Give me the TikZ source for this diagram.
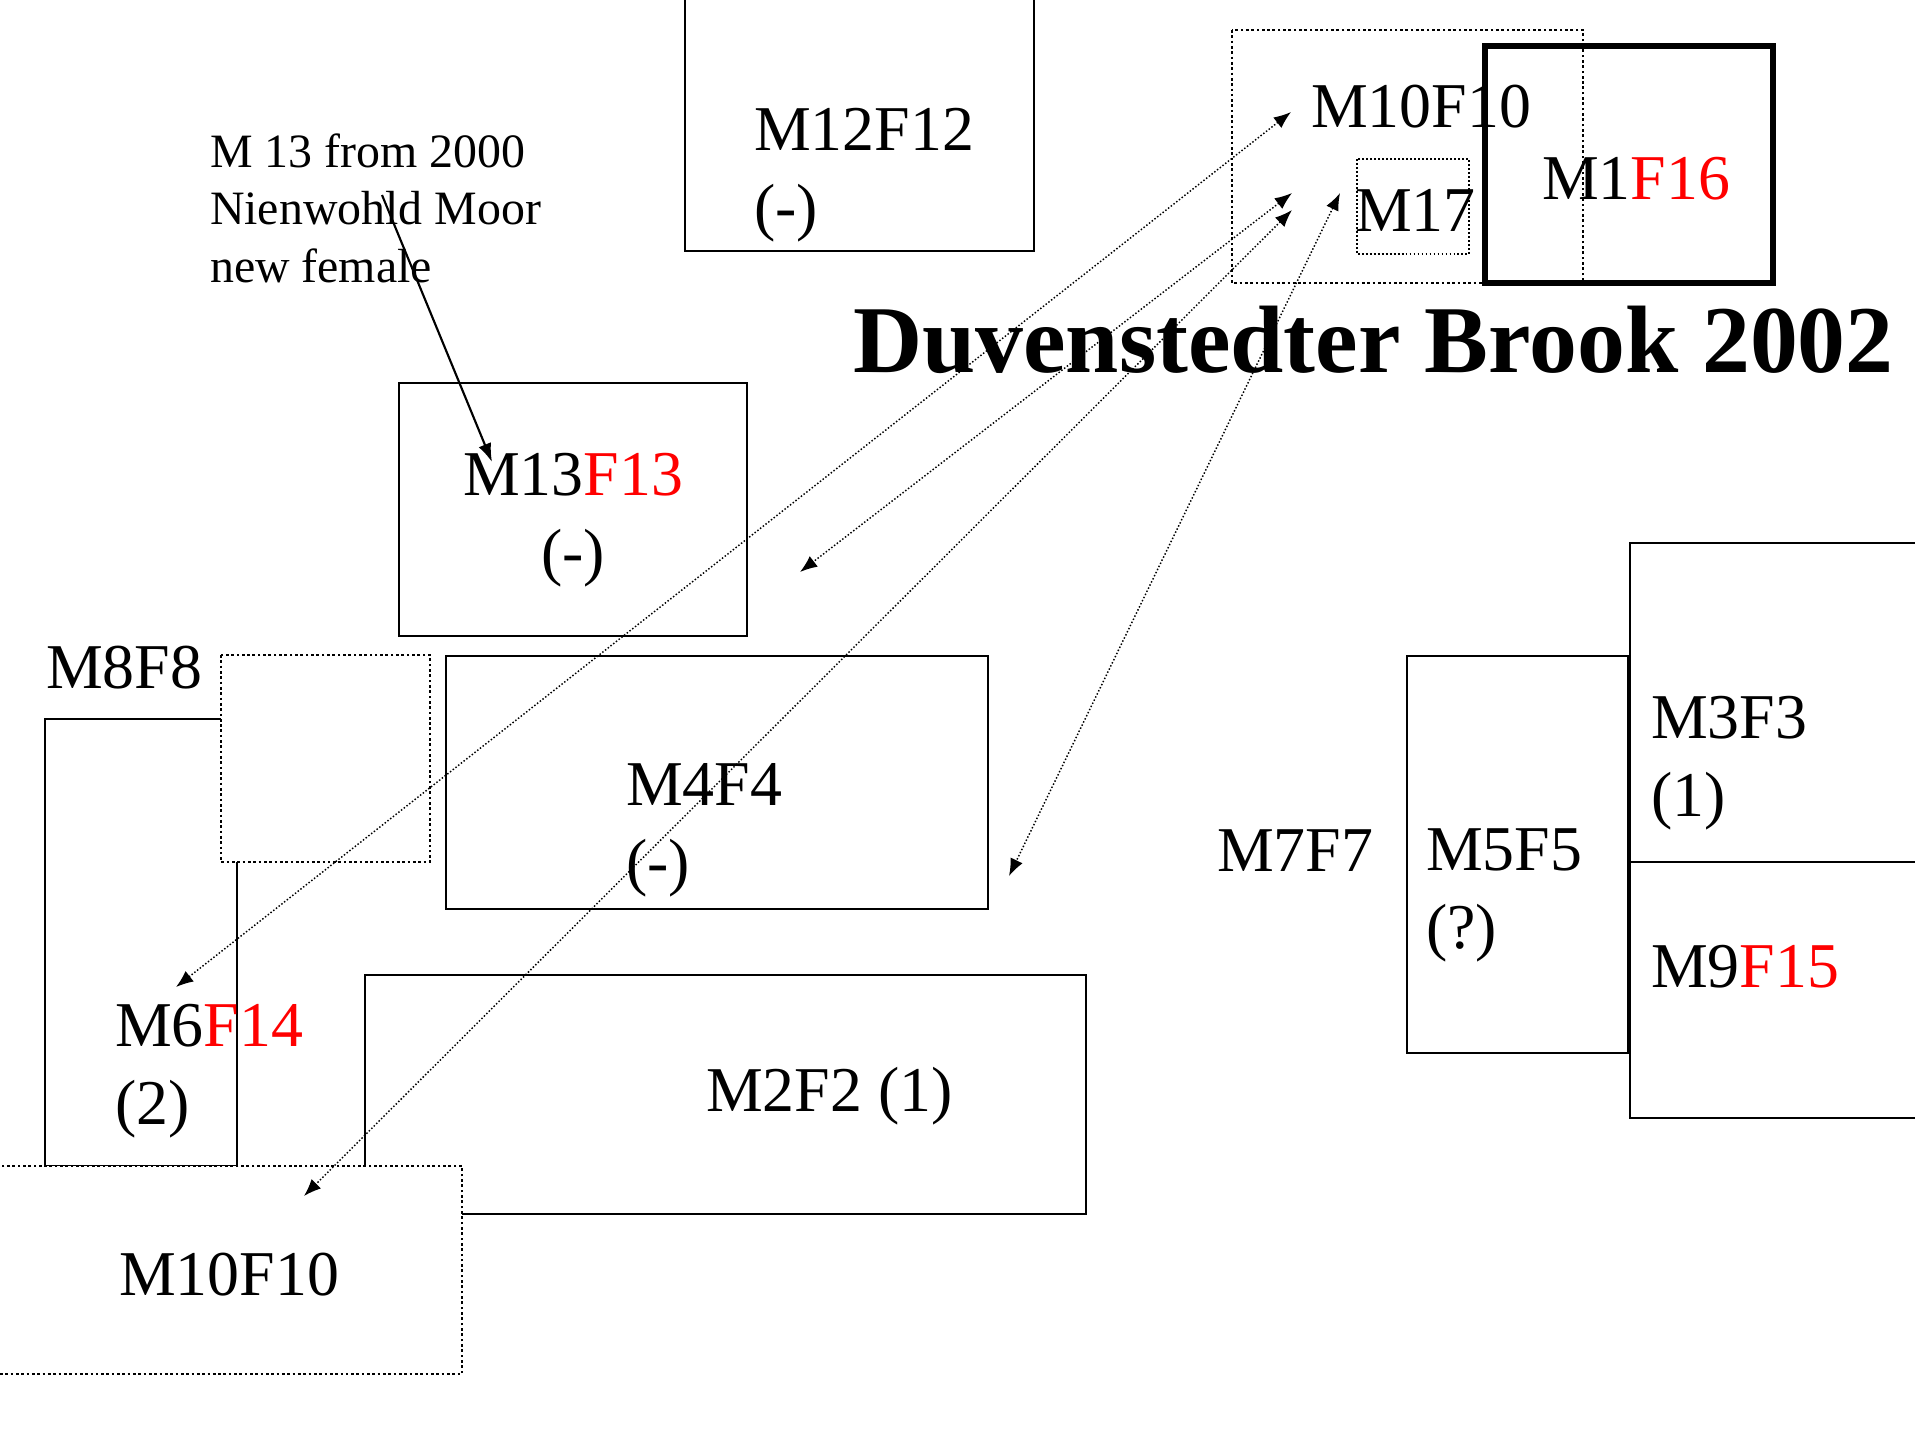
\documentclass[tikz,border=0pt]{standalone}
\usepackage{fontspec}
\setmainfont{Liberation Serif}
\usetikzlibrary{arrows.meta}

\begin{document}
\begin{tikzpicture}[x=0.376pt,y=-0.376pt,line width=0.8pt,
  terr/.style={draw,fill=white},
  dotbox/.style={draw,line width=1.1pt,dash pattern=on 1pt off 1pt,fill=white},
  lab/.style={anchor=base west,inner sep=0pt,align=left,font=\fontsize{24}{29}\selectfont},
  clab/.style={lab,anchor=base,align=center},
  note/.style={anchor=base west,inner sep=0pt,align=left,font=\fontsize{18}{21.6}\selectfont},
  move/.style={line width=0.55pt,dash pattern=on 0.55pt off 0.75pt,
    {Latex[length=6.5pt,width=5pt]}-{Latex[length=6.5pt,width=5pt]}}]
  \useasboundingbox (0,0) rectangle (1915,1438);

  \draw[terr] (685,-10) rectangle (1034,251);
  \draw[terr] (399,383) rectangle (747,636);
  \draw[terr] (45,719) rectangle (237,1166);
  \draw[dotbox] (221,655) rectangle (430,862);
  \draw[terr] (446,656) rectangle (988,909);
  \draw[terr] (365,975) rectangle (1086,1214);
  \draw[dotbox] (-10,1166) rectangle (462,1374);
  \draw[terr] (1407,656) rectangle (1628,1053);
  \draw[terr] (1630,543) rectangle (1925,862);
  \draw[terr] (1630,862) rectangle (1925,1118);
  \draw[fill=white,line width=2.1pt] (1485,46) rectangle (1773,283);
  \draw[dotbox,fill=none] (1232,30) rectangle (1583,283);
  \draw[dotbox,fill=none,line width=0.7pt,dash pattern=on 0.7pt off 0.8pt] (1357,159) rectangle (1469,254);

  \node[lab] (m12) at (753,228) {M12F12\\(-)};
  \node[clab] (m13) at (573,573) {M13\textcolor{red}{F13}\\(-)};
  \node[lab] (m8) at (45,688) {M8F8};
  \node[lab] (m6) at (114,1124) {M6\textcolor{red}{F14}\\(2)};
  \node[lab] (m4) at (625,883) {M4F4\\(-)};
  \node[lab] (m2) at (705,1111) {M2F2 (1)};
  \node[lab] (m10b) at (118,1295) {M10F10};
  \node[lab] (m7) at (1216,871) {M7F7};
  \node[lab] (m5) at (1425,948) {M5F5\\(?)};
  \node[lab] (m3) at (1650,816) {M3F3\\(1)};
  \node[lab] (m9) at (1650,987) {M9\textcolor{red}{F15}};
  \node[lab] (m10a) at (1310,127) {M10F10};
  \node[lab] (m17) at (1354,231) {M17};
  \node[lab] (m1) at (1541,199) {M1\textcolor{red}{F16}};
  \node[note] (m13note) at (209,282) {M 13 from 2000\\Nienwohld Moor\\new female};
  \node[anchor=base west,inner sep=0pt,font=\fontsize{36}{43}\selectfont\bfseries] (title)
    at (852,372) {Duvenstedter Brook 2002};

  \coordinate (n1) at (382,195);
  \coordinate (n2) at (492,462);
  \draw[-{Latex[length=7pt,width=5pt]}] (n1) -- (n2);

  \coordinate (a1) at (1291,112);
  \coordinate (a2) at (176,987);
  \coordinate (b1) at (1292,193);
  \coordinate (b2) at (800,572);
  \coordinate (c1) at (1292,210);
  \coordinate (c2) at (304,1196);
  \coordinate (d1) at (1340,193);
  \coordinate (d2) at (1009,876);
  \draw[move] (a1) -- (a2);
  \draw[move] (b1) -- (b2);
  \draw[move] (c1) -- (c2);
  \draw[move] (d1) -- (d2);
\end{tikzpicture}
\end{document}
